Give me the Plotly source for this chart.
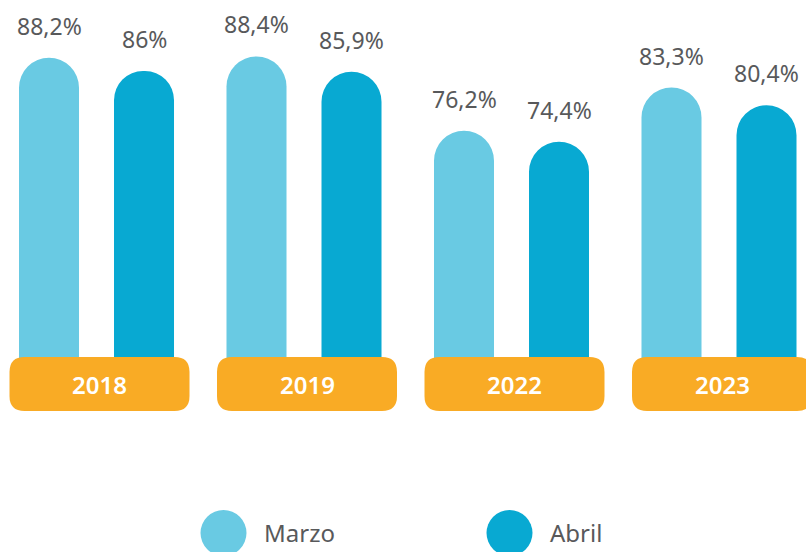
import plotly.graph_objects as go

# Data
years = ["2018", "2019", "2022", "2023"]
series_names = ["Marzo", "Abril"]
marzo = [88.2, 88.4, 76.2, 83.3]
abril = [86.0, 85.9, 74.4, 80.4]

colors = ["#69CAE3", "#08A9D2"]
badge_color = "#F9AB25"
text_color = "#58595B"
font_family = "Noto Sans"

W, H = 806, 552


def pct(v):
    return f"{v:g}".replace(".", ",") + "%"


fig = go.Figure()
for name, vals, col in zip(series_names, [marzo, abril], colors):
    fig.add_trace(go.Bar(
        x=list(range(len(years))), y=vals, name=name,
        marker=dict(color=col, line=dict(width=0)),
        showlegend=False, hoverinfo="skip",
    ))

annotations = []
shapes = []

# value labels above each bar
for k, vals in enumerate([marzo, abril]):
    shift = -47.5 if k == 0 else 47.5
    for i, v in enumerate(vals):
        annotations.append(dict(
            x=i, y=v, xref="x", yref="y", text=pct(v), showarrow=False,
            xshift=shift, yshift=14, yanchor="bottom",
            font=dict(family=font_family, size=23, color=text_color),
        ))

# rounded year badges
unit_px = 207.5
bw = 90 / unit_px          # half width in x units
r_x = 15 / unit_px
y_top = 1 - 357 / H
y_bot = 1 - 411 / H
r_y = 15 / H
for i, yr in enumerate(years):
    cx = i + 3 / unit_px
    x0, x1 = cx - bw, cx + bw
    path = (
        f"M {x0 + r_x},{y_top} L {x1 - r_x},{y_top} Q {x1},{y_top} {x1},{y_top - r_y} "
        f"L {x1},{y_bot + r_y} Q {x1},{y_bot} {x1 - r_x},{y_bot} "
        f"L {x0 + r_x},{y_bot} Q {x0},{y_bot} {x0},{y_bot + r_y} "
        f"L {x0},{y_top - r_y} Q {x0},{y_top} {x0 + r_x},{y_top} Z"
    )
    shapes.append(dict(type="path", path=path, xref="x", yref="paper",
                       fillcolor=badge_color, line=dict(width=0), layer="above"))
    annotations.append(dict(
        x=cx, y=1 - 384 / H, xref="x", yref="paper", text=yr,
        showarrow=False, yanchor="middle",
        font=dict(family=font_family, size=24, color="white", weight=600),
    ))

# legend: large circles with labels
legend_pos = [(223.5, 262), (509.5, 548)]
for (cx, tx), name, col in zip(legend_pos, series_names, colors):
    shapes.append(dict(type="circle", xref="paper", yref="paper",
                       x0=(cx - 23) / W, x1=(cx + 23) / W,
                       y0=1 - 556 / H, y1=1 - 510 / H,
                       fillcolor=col, line=dict(width=0)))
    annotations.append(dict(
        x=tx / W, y=1 - 532 / H, xref="paper", yref="paper", text=name,
        showarrow=False, xanchor="left", yanchor="middle",
        font=dict(family=font_family, size=24, color=text_color),
    ))

fig.update_layout(
    width=W, height=H,
    margin=dict(l=0, r=0, t=0, b=0),
    paper_bgcolor="white", plot_bgcolor="white",
    barmode="group", bargap=0.0843, bargroupgap=0.3684,
    barcornerradius="50%",
    xaxis=dict(range=[-0.4651, 3.4193], showticklabels=False, showgrid=False,
               zeroline=False, showline=False, fixedrange=True),
    yaxis=dict(domain=[1 - 385 / H, 1], range=[34.53, 97.65], showticklabels=False,
               showgrid=False, zeroline=False, showline=False, fixedrange=True),
    shapes=shapes, annotations=annotations,
    showlegend=False,
)

fig.write_html("out.html")
